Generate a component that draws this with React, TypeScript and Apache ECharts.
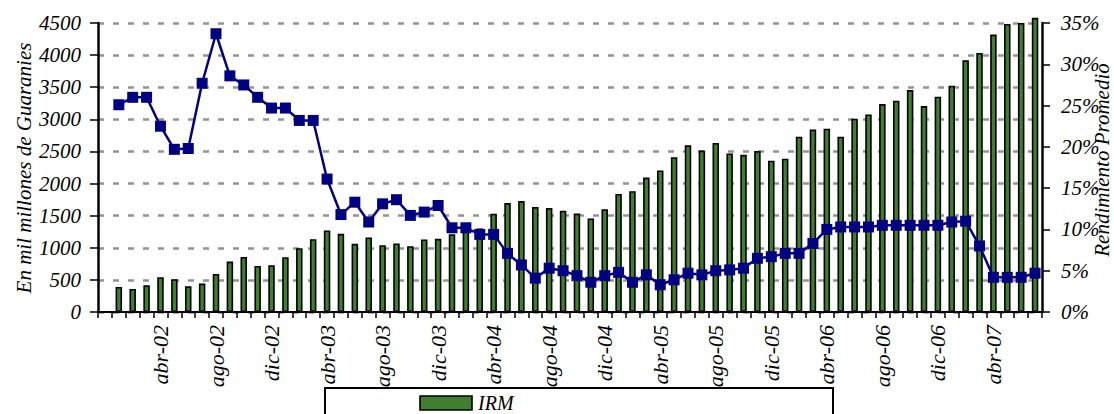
import React, { useEffect, useRef } from "react";
import * as echarts from "echarts";

const categories = [
  "dic-01", "ene-02", "feb-02", "mar-02", "abr-02", "may-02", "jun-02", "jul-02", "ago-02", "sep-02", "oct-02", "nov-02",
  "dic-02", "ene-03", "feb-03", "mar-03", "abr-03", "may-03", "jun-03", "jul-03", "ago-03", "sep-03", "oct-03", "nov-03",
  "dic-03", "ene-04", "feb-04", "mar-04", "abr-04", "may-04", "jun-04", "jul-04", "ago-04", "sep-04", "oct-04", "nov-04",
  "dic-04", "ene-05", "feb-05", "mar-05", "abr-05", "may-05", "jun-05", "jul-05", "ago-05", "sep-05", "oct-05", "nov-05",
  "dic-05", "ene-06", "feb-06", "mar-06", "abr-06", "may-06", "jun-06", "jul-06", "ago-06", "sep-06", "oct-06", "nov-06",
  "dic-06", "ene-07", "feb-07", "mar-07", "abr-07", "may-07", "jun-07", "jul-07",
];

const irm = [
  null, 390, 359, 416, 541, 510, 400, 442, 593, 785, 858, 718,
  728, 853, 994, 1134, 1269, 1217, 1061, 1160, 1040, 1068, 1025, 1130,
  1140, 1212, 1330, 1300, 1530, 1696, 1727, 1634, 1618, 1577, 1532, 1457,
  1600, 1838, 1880, 2093, 2204, 2410, 2596, 2513, 2632, 2469, 2448, 2505,
  2355, 2386, 2729, 2840, 2854, 2729, 3010, 3077, 3238, 3290, 3456, 3207,
  3352, 3524, 3919, 4033, 4319, 4486, 4501, 4580,
];

const rendimiento = [
  null, 25.1, 26.0, 26.0, 22.5, 19.7, 19.8, 27.7, 33.7, 28.6, 27.5, 26.0,
  24.7, 24.7, 23.2, 23.2, 16.1, 11.8, 13.3, 10.9, 13.1, 13.6, 11.7, 12.1,
  12.9, 10.2, 10.2, 9.4, 9.4, 7.1, 5.7, 4.1, 5.3, 5.0, 4.4, 3.6,
  4.4, 4.8, 3.6, 4.5, 3.3, 3.9, 4.7, 4.5, 5.0, 5.1, 5.3, 6.5,
  6.7, 7.1, 7.1, 8.3, 10.0, 10.3, 10.3, 10.3, 10.5, 10.5, 10.5, 10.5,
  10.5, 10.9, 11.0, 8.0, 4.2, 4.2, 4.2, 4.7,
];

const leftTitle = "En mil millones de Guaranies";
const rightTitle = "Rendimiento Promedio";
const barName = "IRM";
const lineName = "Rendimiento Promedio";

const FONT = "'Liberation Serif', 'Times New Roman', serif";
const GREEN = "#3F7F2F";
const NAVY = "#000080";

export default function App() {
  const ref = useRef<HTMLDivElement>(null);

  useEffect(() => {
    if (!ref.current) return;
    const chart = echarts.init(ref.current, undefined, { renderer: "svg" });
    const labelStyle = {
      fontFamily: FONT,
      fontStyle: "italic" as const,
      fontSize: 21,
      color: "#000",
    };
    chart.setOption({
      animation: false,
      backgroundColor: "#fff",
      grid: { left: 98, right: 72, top: 23, bottom: 102, containLabel: false },
      xAxis: {
        type: "category",
        data: categories,
        boundaryGap: true,
        axisLine: { lineStyle: { color: "#000", width: 2 } },
        axisTick: { show: true, interval: 0, length: 6, lineStyle: { color: "#000", width: 1.5 } },
        axisLabel: {
          ...labelStyle,
          fontSize: 22,
          interval: 3,
          rotate: 90,
          margin: 13,
          formatter: (v: string, i: number) => (i === 0 ? "" : v),
        },
        splitLine: { show: false },
      },
      yAxis: [
        {
          type: "value",
          min: 0,
          max: 4500,
          interval: 500,
          axisLine: { show: true, lineStyle: { color: "#000", width: 2.5 } },
          axisTick: { show: true, length: 8, lineStyle: { color: "#000", width: 1.5 } },
          axisLabel: { ...labelStyle, margin: 17, formatter: (v: number) => String(v) },
          splitLine: { show: true, lineStyle: { color: "#939393", width: 2.5, type: [6, 9] } },
        },
        {
          type: "value",
          min: 0,
          max: 35,
          interval: 5,
          position: "right",
          axisLine: { show: true, lineStyle: { color: "#000", width: 2.5 } },
          axisTick: { show: true, length: 8, lineStyle: { color: "#000", width: 1.5 } },
          axisLabel: { ...labelStyle, margin: 19, formatter: (v: number) => `${v}%` },
          splitLine: { show: false },
        },
      ],
      series: [
        {
          name: barName,
          type: "bar",
          data: irm,
          yAxisIndex: 0,
          barWidth: 6.5,
          clip: false,
          itemStyle: { color: GREEN, borderColor: "#000", borderWidth: 1.6 },
          z: 2,
        },
        {
          name: lineName,
          type: "line",
          data: rendimiento,
          yAxisIndex: 1,
          symbol: "rect",
          symbolSize: 11,
          showAllSymbol: true,
          lineStyle: { color: NAVY, width: 2.5 },
          itemStyle: { color: NAVY },
          z: 3,
        },
      ],
      graphic: [
        {
          type: "text",
          x: 24,
          y: 168,
          rotation: Math.PI / 2,
          style: {
            text: leftTitle,
            fontFamily: FONT,
            fontStyle: "italic",
            fontSize: 21,
            fill: "#000",
            textAlign: "center",
            textVerticalAlign: "middle",
          },
        },
        {
          type: "text",
          x: 1102,
          y: 160,
          rotation: Math.PI / 2,
          style: {
            text: rightTitle,
            fontFamily: FONT,
            fontStyle: "italic",
            fontSize: 21,
            fill: "#000",
            textAlign: "center",
            textVerticalAlign: "middle",
          },
        },
        {
          type: "rect",
          shape: { x: 325, y: 388, width: 508, height: 60 },
          style: { fill: "#fff", stroke: "#000", lineWidth: 2 },
        },
        {
          type: "rect",
          shape: { x: 420, y: 396, width: 52, height: 14 },
          style: { fill: GREEN, stroke: "#000", lineWidth: 1.6 },
        },
        {
          type: "text",
          x: 478,
          y: 403,
          style: {
            text: barName,
            fontFamily: FONT,
            fontStyle: "italic",
            fontSize: 20,
            fill: "#000",
            textAlign: "left",
            textVerticalAlign: "middle",
          },
        },
        {
          type: "line",
          shape: { x1: 420, y1: 428, x2: 472, y2: 428 },
          style: { stroke: NAVY, lineWidth: 2.5 },
        },
        {
          type: "rect",
          shape: { x: 440.5, y: 422.5, width: 11, height: 11 },
          style: { fill: NAVY },
        },
        {
          type: "text",
          x: 478,
          y: 428,
          style: {
            text: lineName,
            fontFamily: FONT,
            fontStyle: "italic",
            fontSize: 20,
            fill: "#000",
            textAlign: "left",
            textVerticalAlign: "middle",
          },
        },
      ],
    });
    return () => chart.dispose();
  }, []);

  return (
    <div
      ref={ref}
      style={{ position: "fixed", left: 0, top: 0, width: 1114, height: 414, background: "#fff" }}
    />
  );
}
